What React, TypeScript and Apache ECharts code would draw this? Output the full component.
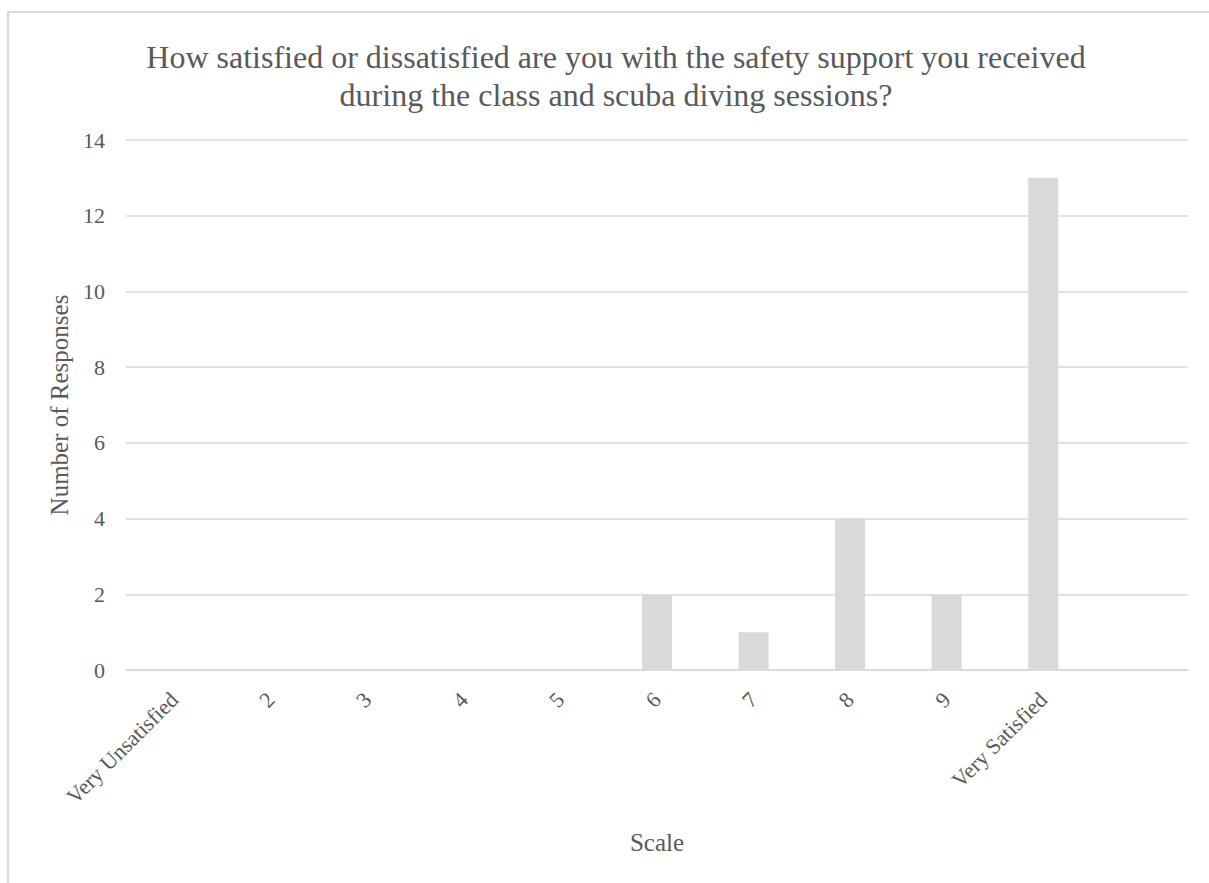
import React, { useEffect, useRef } from "react";
import * as echarts from "echarts";

const categories = ["Very Unsatisfied", "2", "3", "4", "5", "6", "7", "8", "9", "Very Satisfied", ""];
const responses = [0, 0, 0, 0, 0, 2, 1, 4, 2, 13, 0];
const titleLines = [
  "How satisfied or dissatisfied are you with the safety support you received",
  "during the class and scuba diving sessions?",
];
const yAxisName = "Number of Responses";
const xAxisName = "Scale";

const FONT = "Liberation Serif, Times New Roman, serif";
const TEXT = "#595959";
const LINE = "#d9d9d9";

export default function App() {
  const ref = useRef<HTMLDivElement>(null);
  useEffect(() => {
    document.body.style.margin = "0";
    document.body.style.overflow = "hidden";
    const chart = echarts.init(ref.current!, undefined, { renderer: "svg" });
    chart.setOption({
      animation: false,
      backgroundColor: "#ffffff",
      textStyle: { fontFamily: FONT },
      title: {
        text: titleLines.join("\n"),
        left: 611,
        textAlign: "center",
        top: 33,
        textStyle: {
          fontFamily: FONT,
          fontSize: 32,
          fontWeight: "normal",
          color: TEXT,
          lineHeight: 38,
        },
      },
      graphic: [
        {
          type: "polyline",
          shape: { points: [[8, 900], [8, 12], [1220, 12]] },
          style: { stroke: LINE, lineWidth: 2, fill: "none" },
          silent: true,
        },
      ],
      grid: { left: 126, right: 21, top: 140, bottom: 213, containLabel: false },
      xAxis: {
        type: "category",
        data: categories,
        name: xAxisName,
        nameLocation: "middle",
        nameGap: 160,
        nameTextStyle: { fontFamily: FONT, fontSize: 25, color: TEXT },
        axisLine: { show: true, lineStyle: { color: LINE, width: 1.5 } },
        axisTick: { show: false },
        axisLabel: {
          rotate: 45,
          interval: 0,
          margin: 26,
          fontFamily: FONT,
          fontSize: 22,
          color: TEXT,
        },
      },
      yAxis: {
        type: "value",
        min: 0,
        max: 14,
        interval: 2,
        name: yAxisName,
        nameLocation: "middle",
        nameGap: 52,
        nameTextStyle: { fontFamily: FONT, fontSize: 25, color: TEXT },
        axisLine: { show: false },
        axisTick: { show: false },
        axisLabel: { margin: 21, fontFamily: FONT, fontSize: 22, color: TEXT },
        splitLine: { lineStyle: { color: LINE, width: 1.5 } },
      },
      series: [
        {
          type: "bar",
          data: responses,
          barWidth: 30,
          itemStyle: { color: "#d9d9d9" },
        },
      ],
    });
    return () => chart.dispose();
  }, []);
  return <div ref={ref} style={{ width: 1209, height: 883 }} />;
}
